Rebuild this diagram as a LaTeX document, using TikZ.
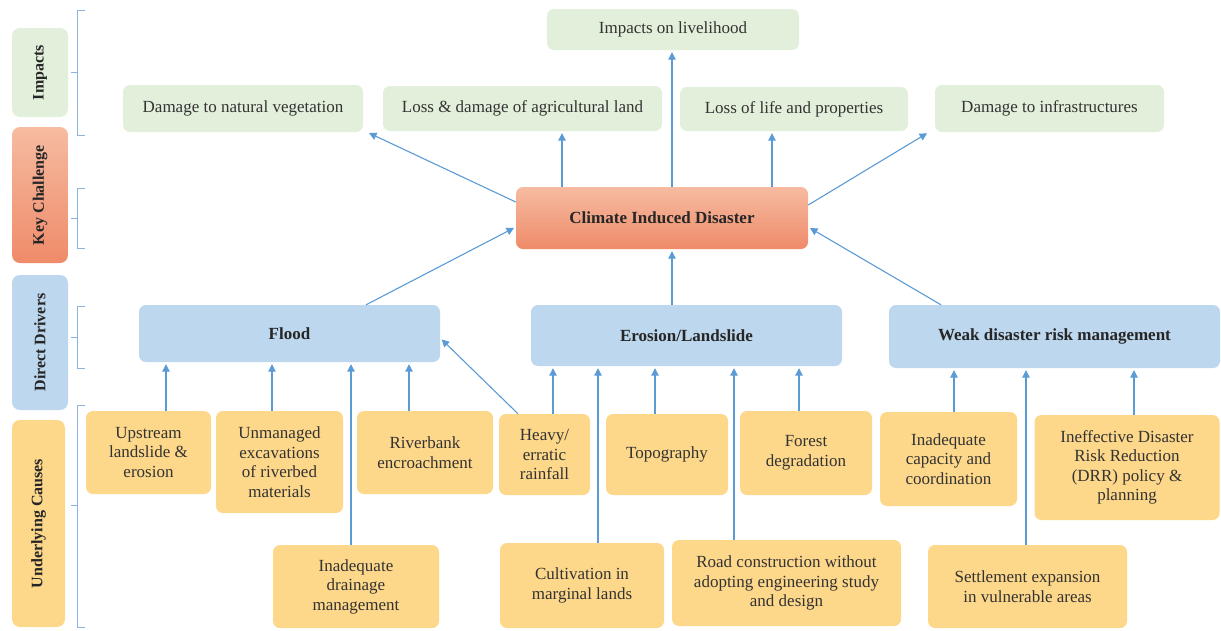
\documentclass[tikz,border=0pt]{standalone}
\usepackage{fontspec}
\setmainfont{Liberation Serif}
\usetikzlibrary{arrows.meta}
\definecolor{impfill}{HTML}{E2EFDA}
\definecolor{drvfill}{HTML}{BDD7EE}
\definecolor{causefill}{HTML}{FDD78A}
\definecolor{cidtop}{HTML}{F6BBA1}
\definecolor{cidbot}{HTML}{EF8B69}
\definecolor{arrcol}{HTML}{5B9BD5}
\definecolor{brkcol}{HTML}{8DB3E2}
\definecolor{txt}{HTML}{333333}
\tikzset{
  box/.style={rounded corners=7pt, align=center, text=txt, inner sep=2pt,
    font=\fontsize{17}{19.5}\selectfont},
  imp/.style={box, fill=impfill},
  drv/.style={box, fill=drvfill, font=\fontsize{17}{19.5}\selectfont\bfseries, text=black!85},
  cause/.style={box, fill=causefill},
  cidbox/.style={box, top color=cidtop, bottom color=cidbot,
    font=\fontsize{17}{19.5}\selectfont\bfseries, text=black!85},
  cat/.style={rounded corners=8pt, rotate=90, inner sep=0pt, text=black!85,
    font=\fontsize{16}{18}\selectfont\bfseries},
  arr/.style={draw=arrcol, line width=1.1pt, shorten >=2pt,
    -{Triangle[width=7.5pt,length=7.5pt]}},
  brk/.style={draw=brkcol, line width=1pt}
}
\begin{document}
\begin{tikzpicture}[x=1pt,y=-1pt]
\useasboundingbox (0,0) rectangle (1221,630);

% level labels on the left
\node[cat, fill=impfill, minimum width=89pt, minimum height=56pt] (cimp) at (40,72.5) {Impacts};
\node[cat, top color=cidtop, bottom color=cidbot, minimum width=136pt, minimum height=56pt] (ckey) at (40,195) {Key Challenge};
\node[cat, fill=drvfill, minimum width=135pt, minimum height=56pt] (cdrv) at (40,342.5) {Direct Drivers};
\node[cat, fill=causefill, minimum width=207pt, minimum height=53pt] (ccause) at (38.5,523.5) {Underlying Causes};

% brackets
\draw[brk] (85,10) -- (77,10) -- (77,135) -- (85,135) (77,72) -- (71,72);
\draw[brk] (85,188) -- (77,188) -- (77,248) -- (85,248) (77,218) -- (71,218);
\draw[brk] (85,306) -- (77,306) -- (77,368) -- (85,368) (77,337) -- (71,337);
\draw[brk] (85,405) -- (77,405) -- (77,627) -- (85,627) (77,505) -- (71,505);

% impacts
\node[imp, minimum width=240pt, minimum height=47pt] (veg) at (243,108.5) {Damage to natural vegetation};
\node[imp, minimum width=279pt, minimum height=45pt] (agr) at (522.5,108.5) {Loss \& damage of agricultural land};
\node[imp, minimum width=252pt, minimum height=41pt] (live) at (673,29.5) {Impacts on livelihood};
\node[imp, minimum width=228pt, minimum height=44pt] (life) at (794,109) {Loss of life and properties};
\node[imp, minimum width=229pt, minimum height=47pt] (infra) at (1049.5,108.5) {Damage to infrastructures};

% key challenge
\node[cidbox, minimum width=292pt, minimum height=62pt] (cid) at (662,218) {Climate Induced Disaster};

% direct drivers
\node[drv, minimum width=301pt, minimum height=57pt] (flood) at (289.5,333.5) {Flood};
\node[drv, minimum width=311pt, minimum height=61pt] (eros) at (686.5,335.5) {Erosion/Landslide};
\node[drv, minimum width=331pt, minimum height=63pt] (weak) at (1054.5,336.5) {Weak disaster risk management};

% underlying causes
\node[cause, minimum width=125pt, minimum height=83pt] (up) at (148.5,452.5) {Upstream\\landslide \&\\erosion};
\node[cause, minimum width=127pt, minimum height=102pt] (unm) at (279.5,462) {Unmanaged\\excavations\\of riverbed\\materials};
\node[cause, minimum width=136pt, minimum height=83pt] (rivb) at (425,452.5) {Riverbank\\encroachment};
\node[cause, minimum width=91pt, minimum height=81pt] (rain) at (544.5,454.5) {Heavy/\\erratic\\rainfall};
\node[cause, minimum width=122pt, minimum height=81pt] (topo) at (667,454.5) {Topography};
\node[cause, minimum width=132pt, minimum height=84pt] (forest) at (806,453) {Forest\\degradation};
\node[cause, minimum width=137pt, minimum height=94pt] (cap) at (948.5,459) {Inadequate\\capacity and\\coordination};
\node[cause, minimum width=185pt, minimum height=105pt] (drr) at (1127,467.5) {Ineffective Disaster\\Risk Reduction\\(DRR) policy \&\\planning};
\node[cause, minimum width=166pt, minimum height=83pt] (drain) at (356,586.5) {Inadequate\\drainage\\management};
\node[cause, minimum width=164pt, minimum height=85pt] (cult) at (582,585.5) {Cultivation in\\marginal lands};
\node[cause, minimum width=229pt, minimum height=86pt] (road) at (786.5,583) {Road construction without\\adopting engineering study\\and design};
\node[cause, minimum width=199pt, minimum height=83pt] (settle) at (1027.5,586.5) {Settlement expansion\\in vulnerable areas};

% disaster to impacts
\draw[arr] ([yshift=16pt]cid.west) -- ([xshift=4pt]veg.south east);
\draw[arr] (cid.north -| 562,0) -- (agr.south -| 562,0);
\draw[arr] (cid.north -| 672,0) -- (live.south -| 672,0);
\draw[arr] (cid.north -| 772,0) -- (life.south -| 772,0);
\draw[arr] ([yshift=13pt]cid.east) -- ([xshift=-6pt]infra.south west);

% drivers to disaster
\draw[arr] (flood.north -| 366,0) -- ([yshift=-9pt]cid.west);
\draw[arr] (eros.north -| 672,0) -- (cid.south -| 672,0);
\draw[arr] (weak.north -| 941,0) -- ([yshift=-9pt]cid.east);

% causes to flood
\draw[arr] (up.north -| 166,0) -- (flood.south -| 166,0);
\draw[arr] (unm.north -| 272,0) -- (flood.south -| 272,0);
\draw[arr] (drain.north -| 351,0) -- (flood.south -| 351,0);
\draw[arr] (rivb.north -| 409,0) -- (flood.south -| 409,0);
\draw[arr] (rain.north -| 518,0) -- ([yshift=-4.5pt]flood.east);

% causes to erosion/landslide
\draw[arr] (rain.north -| 553,0) -- (eros.south -| 553,0);
\draw[arr] (cult.north -| 598,0) -- (eros.south -| 598,0);
\draw[arr] (topo.north -| 655,0) -- (eros.south -| 655,0);
\draw[arr] (road.north -| 734,0) -- (eros.south -| 734,0);
\draw[arr] (forest.north -| 799,0) -- (eros.south -| 799,0);

% causes to weak disaster risk management
\draw[arr] (cap.north -| 954,0) -- (weak.south -| 954,0);
\draw[arr] (settle.north -| 1026,0) -- (weak.south -| 1026,0);
\draw[arr] (drr.north -| 1134,0) -- (weak.south -| 1134,0);
\end{tikzpicture}
\end{document}
